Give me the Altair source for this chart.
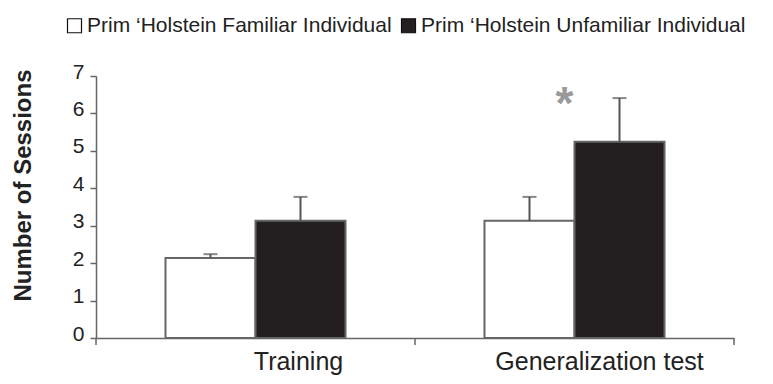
import altair as alt
import pandas as pd

categories = ["Training", "Generalization test"]
groups = ["Prim \u2018Holstein Familiar Individual", "Prim \u2018Holstein Unfamiliar Individual"]
bar_category = ["Training", "Training", "Generalization test", "Generalization test"]
bar_group = [groups[0], groups[1], groups[0], groups[1]]
means = [2.14, 3.13, 3.13, 5.24]
upper = [2.24, 3.77, 3.77, 6.41]
star_category = ["Generalization test"]
star_y = [6.55]
star_text = ["*"]
boundaries = [0, 1, 2]
y_ticks = [0, 1, 2, 3, 4, 5, 6, 7]

df = pd.DataFrame({"cat": bar_category, "grp": bar_group, "mean": means, "up": upper})
stars = pd.DataFrame({"cat": star_category, "y": star_y, "t": star_text})
ticks = pd.DataFrame({"b": boundaries})

W, H = 638, 262
AX = "#666666"
FONT = "Liberation Sans"
x_scale = alt.Scale(domain=categories, paddingInner=0, paddingOuter=0)
x_axis = alt.Axis(title=None, ticks=False, labelAngle=0, labelFontSize=25, labelLimit=400,
                  labelFont=FONT, labelColor="#222222",
                  labelOffset={"condition": {"test": "datum.value == 'Training'", "value": 43}, "value": 25},
                  labelPadding=11, domainColor=AX, domainWidth=1.5)
xo_enc = alt.XOffset("grp:N", scale=alt.Scale(domain=groups, paddingInner=0, paddingOuter=0.772))
y_scale = alt.Scale(domain=[0, 7], nice=False)
y_axis = alt.Axis(title="Number of Sessions", values=y_ticks, tickCount=8, labelOverlap=False,
                  grid=False, tickSize=6, tickColor=AX, tickWidth=1.5, domainColor=AX, domainWidth=1.5,
                  labelFontSize=21, labelFont=FONT, labelColor="#222222", labelOffset=-4,
                  labelPadding=6, titleFontSize=24, titleFont=FONT,
                  titleFontWeight="bold", titleColor="#222222",
                  titleAngle=270, titleX=-73, titleY=109, titleAlign="center", titleBaseline="middle")

bars = alt.Chart(df).mark_bar(stroke=AX, strokeWidth=2).encode(
    x=alt.X("cat:N", scale=x_scale, axis=x_axis), xOffset=xo_enc,
    y=alt.Y("mean:Q", scale=y_scale, axis=y_axis),
    fill=alt.Fill("grp:N", scale=alt.Scale(domain=groups, range=["#ffffff", "#231f20"]),
                  legend=alt.Legend(title=None, orient="none", legendX=-32, legendY=-61,
                                    direction="horizontal", symbolType="square", symbolSize=196,
                                    symbolStrokeColor="#111111", symbolStrokeWidth=1.2,
                                    labelFontSize=21, labelFont=FONT,
                                    labelColor="#222222", columnPadding=6, labelOffset=2,
                                    labelLimit=500)),
)
err = alt.Chart(df).mark_rule(color="#555555", strokeWidth=2).encode(
    x=alt.X("cat:N", scale=x_scale, axis=x_axis), xOffset=xo_enc,
    y=alt.Y("mean:Q", scale=y_scale, axis=y_axis), y2="up:Q")
caps = alt.Chart(df).mark_tick(color="#555555", thickness=2, size=14).encode(
    x=alt.X("cat:N", scale=x_scale, axis=x_axis), xOffset=xo_enc,
    y=alt.Y("up:Q", scale=y_scale, axis=y_axis))
star = alt.Chart(stars).mark_text(color="#999999", fontSize=46, fontWeight="bold",
                                  font=FONT, dx=-10, dy=12).encode(
    x=alt.X("cat:N", scale=x_scale, axis=x_axis),
    y=alt.Y("y:Q", scale=y_scale, axis=y_axis), text="t:N")
tick_layer = alt.Chart(ticks).mark_rule(color=AX, strokeWidth=1.5).encode(
    x=alt.X("b:Q", scale=alt.Scale(domain=[0, 2]), axis=None),
    y=alt.value(H), y2=alt.value(H + 7))

main = alt.layer(bars, err, caps, star)
chart = alt.layer(main, tick_layer).resolve_scale(x="independent").properties(
    width=W, height=H,
    autosize=alt.AutoSizeParams(type="none"),
    padding={"left": 88, "top": 68, "right": 31, "bottom": 38},
).configure_view(stroke=None).configure_axisY(labelOverlap=False, tickCount=8)

chart.save("out.html", embed_options={"renderer": "svg", "actions": False})
